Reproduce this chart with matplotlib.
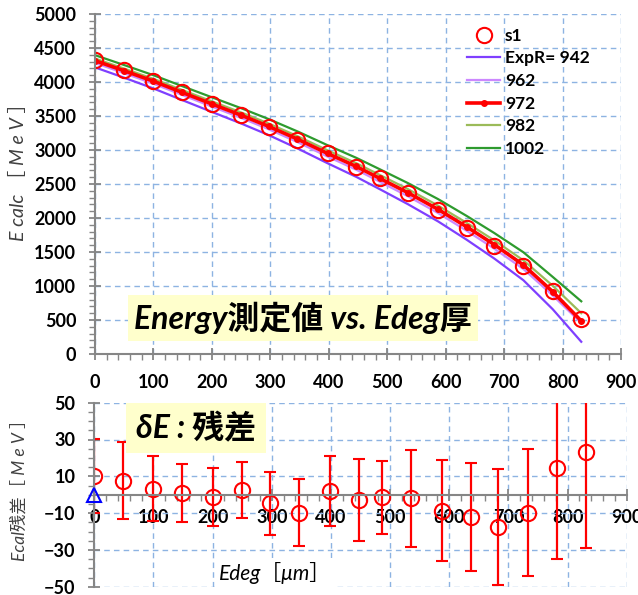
import matplotlib
matplotlib.use("Agg")
import matplotlib.pyplot as plt
from matplotlib.ticker import MultipleLocator

plt.rcParams['font.family'] = ['Lato', 'Noto Sans CJK JP', 'DejaVu Sans']

# Edeg thickness [um]
edeg = [0, 49, 100, 149, 200, 250, 297, 346, 398, 447, 487, 535, 587, 636, 683, 733, 783, 832]
# measured energy (s1) [MeV]
s1 = [4324, 4176, 4015, 3848, 3676, 3515, 3343, 3152, 2951, 2755, 2583, 2372, 2118, 1858, 1593, 1299, 931, 510]
# model curves for several ExpR values
exp942 = [4215, 4066, 3905, 3735, 3560, 3390, 3220, 3025, 2805, 2605, 2425, 2205, 1950, 1680, 1405, 1085, 660, 180]
exp962 = [4280, 4132, 3975, 3810, 3638, 3472, 3306, 3118, 2903, 2710, 2535, 2322, 2073, 1812, 1550, 1250, 862, 455]
exp972 = [4314, 4168, 4012, 3847, 3677, 3512, 3348, 3162, 2949, 2758, 2584, 2374, 2127, 1870, 1610, 1309, 917, 487]
exp982 = [4345, 4200, 4046, 3883, 3715, 3552, 3390, 3205, 2995, 2806, 2634, 2427, 2182, 1928, 1672, 1377, 1005, 600]
exp1002 = [4395, 4252, 4100, 3940, 3775, 3615, 3455, 3275, 3070, 2885, 2718, 2515, 2278, 2030, 1780, 1496, 1135, 775]

# residuals [MeV] and errors
resid = [10.2, 7.6, 3.3, 0.7, -1.1, 2.6, -4.7, -9.8, 2.0, -2.9, -1.4, -2.0, -8.7, -12.0, -17.4, -9.8, 14.5, 23.2]
resid_err = [20, 21, 17.6, 15.8, 15.8, 15.3, 17, 18.3, 19.2, 22.2, 19.8, 26.3, 27.5, 29.4, 31.5, 34.4, 49.3, 52]

W, H = 638, 595
fig = plt.figure(figsize=(W / 100, H / 100), dpi=100)

grid_kw = dict(color="#8DB3E2", linestyle=(0, (4, 3)), linewidth=1.0)
spine_c = "#868686"


def style_axes(ax, xpad):
    for s in ["top", "right"]:
        ax.spines[s].set_visible(False)
    for s in ["left", "bottom"]:
        ax.spines[s].set_color(spine_c)
        ax.spines[s].set_linewidth(1.5)
    ax.tick_params(which="major", direction="inout", length=9, width=1.3, color=spine_c,
                   labelsize=13, pad=9)
    ax.tick_params(which="minor", direction="out", length=4, width=1, color=spine_c)
    ax.tick_params(axis="x", which="major", pad=xpad)
    for lb in ax.get_xticklabels() + ax.get_yticklabels():
        lb.set_fontweight("bold")


# ══════════ top panel ══════════
ax1 = fig.add_axes([95 / W, 1 - 354 / H, (621 - 95) / W, (354 - 14) / H])
ax1.plot(edeg, exp942, color="#7F3FFF", lw=1.6, label="ExpR= 942")
ax1.plot(edeg, exp962, color="#CC88FF", lw=1.6, label="962")
ax1.plot(edeg, exp982, color="#9BBB59", lw=1.6, label="982")
ax1.plot(edeg, exp1002, color="#2E9B2E", lw=1.6, label="1002")
ax1.plot(edeg, exp972, color="red", lw=2.6, marker="o", ms=4, label="972")
ax1.plot(edeg, s1, ls="none", marker="o", ms=11, mfc="none", mec="red", mew=1.5, label="s1")

ax1.set_xlim(0, 900)
ax1.set_ylim(0, 5000)
ax1.xaxis.set_major_locator(MultipleLocator(100))
ax1.xaxis.set_minor_locator(MultipleLocator(20))
ax1.yaxis.set_major_locator(MultipleLocator(500))
ax1.yaxis.set_minor_locator(MultipleLocator(100))
ax1.grid(True, which="major", **grid_kw)
style_axes(ax1, 10)

h, l = ax1.get_legend_handles_labels()
order = [5, 0, 1, 4, 2, 3]
ax1.legend([h[i] for i in order], [l[i] for i in order], loc="upper left",
           bbox_to_anchor=(0.685, 0.995), frameon=False, handlelength=1.9,
           handletextpad=0.25, labelspacing=0.38, borderaxespad=0.3,
           prop=dict(weight="bold", size=12.5))

ax1.set_ylabel("E calc ［ M e V ］", fontsize=14, style="italic", color="#404040")
ax1.yaxis.set_label_coords(-0.13, 0.55)

fig.text(303 / W, 1 - 318 / H, "Energy測定値 vs. Edeg厚", fontsize=23, fontweight="bold",
         style="italic", ha="center", va="center",
         bbox=dict(boxstyle="square,pad=0.2", fc="#FFFFCC", ec="none"))

# ══════════ bottom panel ══════════
ax2 = fig.add_axes([94.3 / W, 1 - 586.7 / H, (626.7 - 94.3) / W, (586.7 - 402.7) / H])
ax2.errorbar(edeg, resid, yerr=resid_err, fmt="o", ms=11, mfc="none", mec="red", mew=1.5,
             ecolor="red", elinewidth=1.6, capsize=4, capthick=1.6)
ax2.plot([0], [0], marker="^", ms=10, mfc="none", mec="blue", mew=1.5, ls="none",
         clip_on=False, zorder=5)

ax2.set_xlim(0, 900)
ax2.set_ylim(-50, 50)
ax2.xaxis.set_major_locator(MultipleLocator(100))
ax2.xaxis.set_minor_locator(MultipleLocator(20))
ax2.set_yticks([-50, -30, -10, 10, 30, 50])
ax2.yaxis.set_minor_locator(MultipleLocator(5))
ax2.grid(True, which="major", **grid_kw)
ax2.spines["bottom"].set_position(("data", 0))
style_axes(ax2, 6)

ax2.set_ylabel("Ecal残差［ M e V ］", fontsize=12.5, style="italic", color="#404040")
ax2.yaxis.set_label_coords(-0.125, 0.55)

fig.text(275 / W, 1 - 573 / H, "Edeg［μm］", fontsize=15, style="italic",
         ha="center", va="center",
         bbox=dict(boxstyle="square,pad=0.2", fc="white", ec="none"))

fig.text(196 / W, 1 - 428 / H, "δE : 残差", fontsize=23, fontweight="bold",
         style="italic", ha="center", va="center",
         bbox=dict(boxstyle="square,pad=0.3", fc="#FFFFCC", ec="none"))

fig.savefig("out.png", dpi=100)
